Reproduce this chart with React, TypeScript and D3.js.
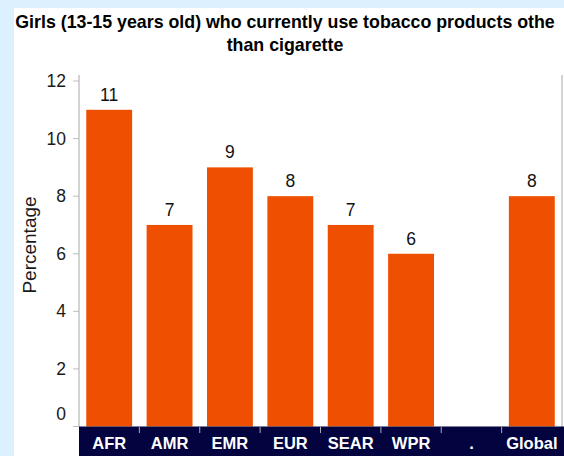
import React from "react";
import * as d3 from "d3";

// Region categories, values (percent) and y tick values
const categories: string[] = ["AFR", "AMR", "EMR", "EUR", "SEAR", "WPR", ".", "Global"];
const values: (number | null)[] = [11, 7, 9, 8, 7, 6, null, 8];
const yTicks: number[] = [0, 2, 4, 6, 8, 10, 12];
const titleLines: string[] = [
  "Girls (13-15 years old) who currently use tobacco products othe",
  "than cigarette",
];
const yLabel = "Percentage";

const W = 564;
const H = 456;
const FONT = "Arial, 'Liberation Sans', Helvetica, sans-serif";

export default function App() {
  const x = d3
    .scaleBand<string>()
    .domain(categories)
    .range([79, 562])
    .paddingInner(0.24)
    .paddingOuter(0.12);
  const y = d3.scaleLinear().domain([0, 12]).range([426.5, 81]);

  const step = x.step();
  const boundaries = categories.slice(1).map((c) => (x(c) as number) - step * 0.12);

  return (
    <svg
      width={W}
      height={H}
      style={{ position: "absolute", left: 0, top: 0, fontFamily: FONT }}
    >
      {/* page background and white panel */}
      <rect x={0} y={0} width={W} height={H} fill="#dcf1fd" />
      <rect x={14} y={8} width={W - 14} height={H - 8} fill="#ffffff" />

      {/* title */}
      {titleLines.map((t, i) => (
        <text
          key={i}
          x={285}
          y={28 + i * 22.5}
          textAnchor="middle"
          fontSize={17.8}
          fontWeight="bold"
          fill="#000"
        >
          {t}
        </text>
      ))}

      {/* y axis */}
      <line x1={79} x2={79} y1={75} y2={427} stroke="#c4c4c4" strokeWidth={1.5} />
      <line x1={562} x2={562} y1={75} y2={427} stroke="#c4c4c4" strokeWidth={1.5} />
      {yTicks.map((t) => (
        <g key={t}>
          <line x1={73} x2={79} y1={y(t)} y2={y(t)} stroke="#bdbdbd" strokeWidth={1} />
          <text
            x={66}
            y={t === 0 ? y(t) - 13 : y(t)}
            dy="0.35em"
            textAnchor="end"
            fontSize={17.5}
            fill="#1a1a1a"
          >
            {t}
          </text>
        </g>
      ))}
      <text
        transform={`translate(35.5,245) rotate(-90)`}
        textAnchor="middle"
        fontSize={19}
        fill="#1a1a1a"
      >
        {yLabel}
      </text>

      {/* bars with value labels */}
      {categories.map((c, i) => {
        const v = values[i];
        if (v == null) return null;
        const bx = x(c) as number;
        return (
          <g key={c}>
            <rect
              x={bx}
              y={y(v)}
              width={x.bandwidth()}
              height={y(0) - y(v)}
              fill="#ef4f00"
            />
            <text
              x={bx + x.bandwidth() / 2}
              y={y(v) - 9}
              textAnchor="middle"
              fontSize={17.5}
              fill="#111"
            >
              {v}
            </text>
          </g>
        );
      })}

      {/* category band */}
      <rect x={79} y={426.5} width={W - 79} height={H - 426.5} fill="#03033f" />
      {boundaries.map((bx, i) => (
        <line key={i} x1={bx} x2={bx} y1={427} y2={433} stroke="#a9a9b8" strokeWidth={1} />
      ))}
      {categories.map((c) => (
        <text
          key={c}
          x={(x(c) as number) + x.bandwidth() / 2}
          y={449}
          textAnchor="middle"
          fontSize={16.5}
          fontWeight="bold"
          fill="#ffffff"
        >
          {c}
        </text>
      ))}
    </svg>
  );
}
